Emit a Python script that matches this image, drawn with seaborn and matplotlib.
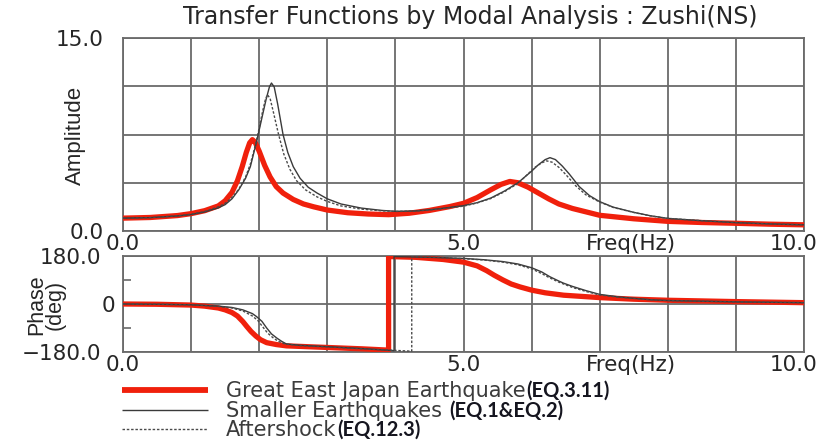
import matplotlib
matplotlib.use("Agg")
import matplotlib.pyplot as plt
from matplotlib.lines import Line2D
from matplotlib.transforms import ScaledTranslation
import seaborn as sns

# ---------------- data ----------------
# Amplitude: Great East Japan Earthquake (EQ.3.11)
freq_amp_main = [0.0, 0.4, 0.8, 1.0, 1.2, 1.4, 1.5, 1.6, 1.68, 1.75, 1.81, 1.86, 1.90, 1.94,
                 2.0, 2.08, 2.16, 2.25, 2.35, 2.5, 2.65, 2.8, 3.0, 3.3, 3.6, 3.9, 4.2, 4.5,
                 4.8, 5.0, 5.2, 5.4, 5.55, 5.68, 5.8, 5.95, 6.1, 6.25, 6.4, 6.6, 6.85, 7.0,
                 7.5, 8.0, 8.5, 9.0, 9.5, 10.0]
amp_main = [1.00, 1.05, 1.20, 1.35, 1.58, 1.95, 2.35, 3.0, 3.9, 5.0, 6.1, 6.85, 7.1, 6.9,
            6.2, 5.1, 4.2, 3.45, 2.95, 2.45, 2.1, 1.88, 1.63, 1.42, 1.32, 1.27, 1.38, 1.6,
            1.9, 2.15, 2.6, 3.2, 3.62, 3.85, 3.75, 3.4, 2.95, 2.5, 2.1, 1.75, 1.42, 1.22,
            0.95, 0.75, 0.66, 0.6, 0.53, 0.48]

# Amplitude: Smaller Earthquakes (EQ.1&EQ.2)
freq_amp_small = [0.0, 0.4, 0.8, 1.0, 1.2, 1.4, 1.5, 1.6, 1.7, 1.8, 1.87, 1.96, 2.04, 2.1,
                  2.15, 2.18, 2.22, 2.27, 2.35, 2.42, 2.5, 2.6, 2.72, 2.85, 3.0, 3.2, 3.5,
                  3.8, 4.0, 4.3, 4.6, 5.0, 5.2, 5.4, 5.6, 5.8, 6.0, 6.1, 6.2, 6.27, 6.35,
                  6.45, 6.55, 6.7, 6.85, 7.0, 7.2, 7.5, 7.75, 8.0, 8.5, 9.0, 9.5, 10.0]
amp_small = [1.00, 1.04, 1.17, 1.28, 1.48, 1.8, 2.05, 2.5, 3.2, 4.1, 5.0, 6.9, 8.8, 10.2,
             11.2, 11.5, 11.2, 9.9, 7.5, 6.1, 5.0, 4.1, 3.4, 2.95, 2.5, 2.1, 1.78,
             1.6, 1.53, 1.56, 1.7, 1.97, 2.2, 2.56, 3.1, 3.75, 4.65, 5.15, 5.55, 5.7, 5.55,
             5.05, 4.45, 3.45, 2.75, 2.28, 1.85, 1.45, 1.18, 0.98, 0.8, 0.65, 0.55, 0.48]

# Amplitude: Aftershock (EQ.12.3)
freq_amp_after = [0.0, 0.4, 0.8, 1.0, 1.2, 1.4, 1.5, 1.6, 1.7, 1.8, 1.87, 1.94, 2.0, 2.05,
                  2.09, 2.12, 2.16, 2.21, 2.28, 2.36, 2.45, 2.55, 2.68, 2.85, 3.0, 3.2, 3.5,
                  3.8, 4.0, 4.3, 4.6, 5.0, 5.2, 5.4, 5.6, 5.8, 5.95, 6.05, 6.15, 6.22, 6.3,
                  6.4, 6.5, 6.65, 6.8, 7.0, 7.2, 7.5, 7.75, 8.0, 8.5, 9.0, 9.5, 10.0]
amp_after = [1.00, 1.04, 1.18, 1.30, 1.52, 1.88, 2.15, 2.6, 3.25, 4.2, 5.2, 6.6, 8.0, 9.3,
             10.2, 10.6, 10.3, 9.2, 7.6, 6.0, 4.8, 3.9, 3.2, 2.65, 2.3, 1.95, 1.7,
             1.57, 1.52, 1.55, 1.68, 1.93, 2.18, 2.52, 3.05, 3.7, 4.45, 4.95, 5.3, 5.45, 5.35,
             4.95, 4.4, 3.5, 2.8, 2.25, 1.83, 1.44, 1.17, 0.98, 0.8, 0.65, 0.55, 0.48]

# Phase: Great East Japan Earthquake
freq_ph_main = [0.0, 0.5, 1.0, 1.2, 1.4, 1.5, 1.6, 1.68, 1.76, 1.82, 1.88, 1.95, 2.02, 2.11,
                2.25, 2.4, 2.7, 3.0, 3.5, 3.9, 3.9, 4.3, 4.7, 5.0, 5.2, 5.34, 5.45, 5.58,
                5.7, 5.83, 6.0, 6.2, 6.47, 7.0, 7.5, 8.0, 9.0, 10.0]
phase_main = [0, -1, -4, -8, -15, -22, -32, -45, -66, -85, -103, -120, -134, -145,
              -152, -157, -160, -163, -168, -173, 178, 175, 167, 157, 143, 125, 108, 90,
              75, 64, 52, 42, 33, 24, 18, 14, 9, 5]

# Phase: Smaller Earthquakes
freq_ph_small = [0.0, 0.5, 1.0, 1.4, 1.6, 1.76, 1.9, 1.96, 2.04, 2.11, 2.18, 2.26, 2.33, 2.4,
                 2.6, 3.0, 3.5, 3.98, 3.98, 4.5, 5.0, 5.3, 5.58, 5.8, 6.0, 6.15, 6.27, 6.4,
                 6.47, 6.6, 6.8, 7.0, 7.3, 7.74, 8.0, 9.0, 10.0]
phase_small = [0, -1, -3, -8, -13, -22, -36, -47, -65, -90, -112, -128, -140, -150,
               -155, -160, -167, -175, 178, 175, 171, 166, 159, 150, 136, 120, 102, 86,
               78, 66, 50, 36, 26, 16, 13, 8, 5]

# Phase: Aftershock
freq_ph_after = [0.0, 0.5, 1.0, 1.4, 1.6, 1.76, 1.9, 1.98, 2.05, 2.12, 2.2, 2.28, 2.38, 2.6,
                 3.0, 3.5, 4.0, 4.24, 4.24, 4.6, 5.0, 5.3, 5.58, 5.8, 6.0, 6.15, 6.25, 6.4,
                 6.6, 6.8, 7.0, 7.3, 7.74, 8.0, 9.0, 10.0]
phase_after = [0, -1, -3, -9, -15, -26, -45, -62, -85, -108, -126, -140, -150, -156,
               -161, -168, -174, -177, 178, 175, 170, 165, 157, 147, 132, 114, 100, 82,
               62, 47, 34, 25, 16, 13, 8, 5]

# tick labels / texts
x_tick_vals = [0, 5, 10]
x_tick_labels = ["0.0", "5.0", "10.0"]
amp_tick_vals = [0, 15]
amp_tick_labels = ["0.0", "15.0"]
phase_tick_vals = [-180, 0, 180]
phase_tick_labels = ["\u2212180.0", "0", "180.0"]
title_text = "Transfer Functions by Modal Analysis : Zushi(NS)"
legend_main = ["Great East Japan Earthquake", "Smaller Earthquakes ", "Aftershock"]
legend_bold = ["(EQ.3.11)", "(EQ.1&EQ.2)", "(EQ.12.3)"]

# ---------------- style ----------------
sns.set_style("white")
plt.rcParams["font.family"] = ["DejaVu Sans"]

RED = "#f0200c"
DARK = "#3a3a3a"
DASH = "#4a4a4a"
GRID = "#6a6a6a"
TXT = "#262626"

W, H = 824, 441
fig = plt.figure(figsize=(W / 100, H / 100), dpi=100)
ax1 = fig.add_axes([123 / W, 1 - 231 / H, 681 / W, 193 / H])
ax2 = fig.add_axes([123 / W, 1 - 352 / H, 681 / W, 96 / H])

dash_style = (0, (1.8, 1.3))

# amplitude
sns.lineplot(x=freq_amp_main, y=amp_main, ax=ax1, color=RED, linewidth=3.8,
             estimator=None, sort=False, zorder=3)
sns.lineplot(x=freq_amp_small, y=amp_small, ax=ax1, color=DARK, linewidth=1.0,
             estimator=None, sort=False, zorder=4)
sns.lineplot(x=freq_amp_after, y=amp_after, ax=ax1, color=DASH, linewidth=1.0,
             linestyle=dash_style, estimator=None, sort=False, zorder=4)

# phase
sns.lineplot(x=freq_ph_main, y=phase_main, ax=ax2, color=RED, linewidth=3.8,
             estimator=None, sort=False, zorder=3)
sns.lineplot(x=freq_ph_small, y=phase_small, ax=ax2, color=DARK, linewidth=1.0,
             estimator=None, sort=False, zorder=4)
sns.lineplot(x=freq_ph_after, y=phase_after, ax=ax2, color=DASH, linewidth=1.0,
             linestyle=dash_style, estimator=None, sort=False, zorder=4)

TICK_FS = 15.5
for ax in (ax1, ax2):
    ax.set_xlim(0, 10)
    ax.set_xlabel("")
    ax.set_ylabel("")
    ax.set_xticks(x_tick_vals, labels=x_tick_labels)
    ax.set_xticks([1, 2, 3, 4, 6, 7, 8, 9], minor=True)
    ax.grid(True, axis="x", which="both", color=GRID, linewidth=1.3)
    ax.tick_params(axis="x", which="both", length=0, pad=2, labelsize=TICK_FS,
                   labelcolor=TXT)
    for s in ax.spines.values():
        s.set_color(GRID)
        s.set_linewidth(1.3)
    ax.set_axisbelow(True)
    ax.annotate("Freq(Hz)", xy=(7.46, 0), xycoords=("data", "axes fraction"),
                xytext=(0, -2), textcoords="offset points", ha="center", va="top",
                fontsize=TICK_FS, color=TXT)
    # keep the "10.0" label inside the figure, as in the reference
    lbl = ax.xaxis.get_major_ticks()[2].label1
    lbl.set_transform(lbl.get_transform() + ScaledTranslation(-0.1, 0, fig.dpi_scale_trans))

ax1.set_ylim(0, 15)
ax1.set_yticks(amp_tick_vals, labels=amp_tick_labels)
ax1.set_yticks([3.75, 7.5, 11.25], minor=True)
ax1.grid(True, axis="y", which="both", color=GRID, linewidth=1.3)
ax1.tick_params(axis="y", which="major", direction="out", length=7, width=1.3,
                color=GRID, pad=7, labelsize=TICK_FS, labelcolor=TXT)
ax1.tick_params(axis="y", which="minor", length=0)

ax2.set_ylim(-180, 180)
ax2.set_yticks(phase_tick_vals, labels=phase_tick_labels)
ax2.set_yticks([-90, 90], minor=True)
ax2.grid(True, axis="y", which="major", color=GRID, linewidth=1.3)
ax2.tick_params(axis="y", which="major", direction="out", length=5.5, width=1.3,
                color=GRID, pad=10, labelsize=TICK_FS, labelcolor=TXT)
ax2.tick_params(axis="y", which="minor", direction="in", length=6, width=1.2,
                color=GRID, left=True, right=False)
mt = ax2.yaxis.get_major_ticks()
mt[1].tick1line.set_visible(False)
mt[1].set_pad(0)

# axis titles
fig.text(75 / W, 1 - 135 / H, "Amplitude", rotation=90, ha="center", va="center",
         fontsize=16, color=TXT,
         family=["Liberation Sans Narrow", "Liberation Sans", "DejaVu Sans"])
fig.text(46 / W, 1 - 305 / H, "Phase\n(deg)", rotation=90, ha="center", va="center",
         fontsize=15.5, color=TXT, linespacing=0.85, multialignment="center",
         family=["Liberation Sans Narrow", "Liberation Sans", "DejaVu Sans"])

# title
fig.text(470 / W, 1 - 17 / H, title_text, ha="center", va="center", fontsize=17,
         color=TXT)

# legend (drawn below the panels)
renderer = fig.canvas.get_renderer()
handle_styles = [dict(color=RED, lw=4.2, ls="-"),
                 dict(color=DARK, lw=1.0, ls="-"),
                 dict(color=DASH, lw=1.0, ls=dash_style)]
baselines = [397, 417, 436]
for style, main, bold, yb in zip(handle_styles, legend_main, legend_bold, baselines):
    yl = yb - 7
    fig.add_artist(Line2D([122 / W, 208 / W], [1 - yl / H, 1 - yl / H],
                          transform=fig.transFigure, solid_capstyle="butt", **style))
    t = fig.text(226 / W, 1 - yb / H, main, ha="left", va="baseline", fontsize=15,
                 color="#3c3c3c")
    bb = t.get_window_extent(renderer)
    fig.text(bb.x1 / W + 1 / W, 1 - yb / H, bold, ha="left", va="baseline",
             fontsize=14.5, fontweight="bold", color="#15151f",
             family=["Lato", "Open Sans", "DejaVu Sans"])

fig.savefig("out.png", dpi=100)
